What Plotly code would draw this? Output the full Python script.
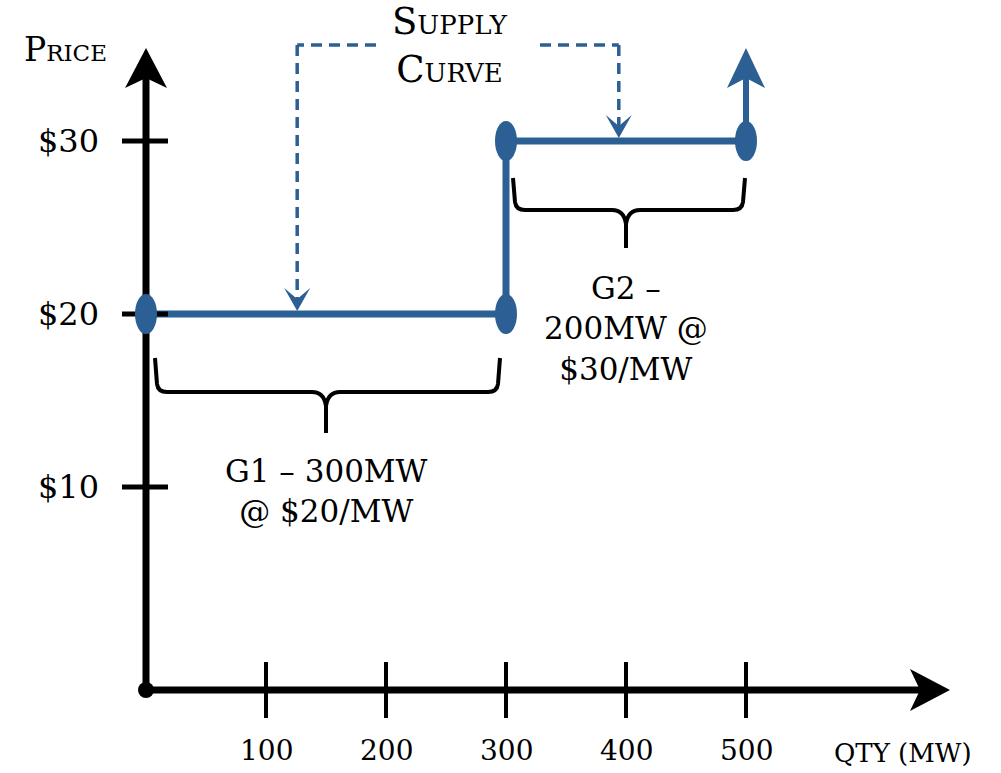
import plotly.graph_objects as go

# ---------------- data ----------------
generators = ["G1", "G2"]
gen_capacity_mw = [300, 200]
gen_price = [20, 30]
gen_labels = ["G1 – 300MW<br>@ $20/MW", "G2 –<br>200MW @<br>$30/MW"]
qty_ticks = [100, 200, 300, 400, 500]
qty_tick_labels = ["100", "200", "300", "400", "500"]
price_ticks = [10, 20, 30]
price_tick_labels = ["$10", "$20", "$30"]

# ---------------- styling / scale ----------------
BLUE = "#2c5f94"
BLACK = "#000000"
W, H = 1001, 773
X0_PX, SX = 146, 1.2      # pixel of qty 0, pixels per MW
Y20_PX, SY = 314, 17.3    # pixel of $20, pixels per $
x_range = [-X0_PX / SX, (W - X0_PX) / SX]
y_range = [20 - (H - Y20_PX) / SY, 20 + Y20_PX / SY]


def dx(px):
    return px / SX


def dy(px):
    return px / SY


AXIS_Y = 20 - (690 - Y20_PX) / SY
Y_TIP = 20 + (Y20_PX - 48) / SY
X_TIP = (950 - X0_PX) / SX
FONT = "DejaVu Serif"


def poly(q, p, pts):
    s = ""
    for i, (a, b) in enumerate(pts):
        s += ("M" if i == 0 else "L") + f"{q + dx(a)},{p + dy(b)} "
    return s + "Z"


shapes = []
annotations = []


def line(x0, y0, x1, y1, color=BLACK, width=6, dash=None):
    shapes.append(dict(type="line", xref="x", yref="y", x0=x0, y0=y0, x1=x1, y1=y1,
                       line=dict(color=color, width=width, dash=dash), layer="above"))


def path(d, color=BLACK, fill=None, width=0):
    shapes.append(dict(type="path", xref="x", yref="y", path=d,
                       fillcolor=fill if fill else "rgba(0,0,0,0)",
                       line=dict(color=color, width=width), layer="above"))


def ellipse(q, p, rx, ry, color):
    shapes.append(dict(type="circle", xref="x", yref="y", xsizemode="pixel", ysizemode="pixel",
                       xanchor=q, yanchor=p, x0=-rx, x1=rx, y0=-ry, y1=ry,
                       fillcolor=color, line=dict(color=color, width=0), layer="above"))


# ---------------- axes ----------------
line(0, AXIS_Y, 0, Y_TIP - dy(28), width=7)
path(poly(0, Y_TIP, [(0, 0), (-21, -40), (0, -30), (21, -40)]), fill=BLACK)
line(0, AXIS_Y, X_TIP - dx(28), AXIS_Y, width=7)
path(poly(X_TIP, AXIS_Y, [(0, 0), (-40, 21), (-30, 0), (-40, -21)]), fill=BLACK)
ellipse(0, AXIS_Y, 8, 8, BLACK)

for q, lab in zip(qty_ticks, qty_tick_labels):
    line(q, AXIS_Y - dy(28), q, AXIS_Y + dy(28), width=4)
    annotations.append(dict(x=q, y=AXIS_Y, yshift=-60, text=lab, showarrow=False,
                            font=dict(family=FONT, size=28, color=BLACK)))
for p, lab in zip(price_ticks, price_tick_labels):
    line(-dx(24), p, dx(22), p, width=5)
    annotations.append(dict(x=0, y=p, xshift=-78, text=lab, showarrow=False,
                            font=dict(family=FONT, size=32, color=BLACK)))

annotations.append(dict(x=0, y=Y_TIP, xshift=-81, yshift=-1, text="Price", showarrow=False,
                        font=dict(family=FONT, size=33, color=BLACK, variant="small-caps")))
annotations.append(dict(x=X_TIP + dx(24), y=AXIS_Y, xanchor="right", yshift=-63, text="QTY (MW)",
                        showarrow=False, font=dict(family=FONT, size=26, color=BLACK)))

# ---------------- supply curve ----------------
sx, sy = [], []
cum = 0
for cap, pr in zip(gen_capacity_mw, gen_price):
    sx += [cum, cum + cap]
    sy += [pr, pr]
    cum += cap

fig = go.Figure()
fig.add_trace(go.Scatter(x=sx, y=sy, mode="lines", line=dict(color=BLUE, width=7),
                         hoverinfo="skip", showlegend=False))

# upward arrow at end of curve
line(sx[-1], sy[-1], sx[-1], Y_TIP - dy(28), color=BLUE, width=6)
path(poly(sx[-1], Y_TIP, [(0, 0), (-19, -40), (0, -30), (19, -40)]), fill=BLUE)
for q, p in zip(sx, sy):
    ellipse(q, p, 11, 20, BLUE)

# ---------------- braces + labels ----------------
starts = [0] + [sum(gen_capacity_mw[:i + 1]) for i in range(len(gen_capacity_mw) - 1)]
brace_dims = [(9, 6, 44, 78, 119), (7, 1, 37, 69, 107)]
label_shift = [-18, -20]
for i, (st, cap, pr) in enumerate(zip(starts, gen_capacity_mw, gen_price)):
    lpad, rpad, top, mid_h, tip = brace_dims[i]
    L = st + dx(lpad)
    R = st + cap - dx(rpad)
    M = st + cap / 2
    yt = pr - dy(top)
    yh = pr - dy(mid_h)
    yp = pr - dy(tip)
    r = 8
    d = (f"M{L},{yt} L{L + dx(2)},{yh + dy(r)} Q{L + dx(3)},{yh} {L + dx(r + 4)},{yh} "
         f"L{M - dx(14)},{yh} Q{M - dx(2)},{yh} {M},{yh - dy(14)} L{M},{yp} "
         f"M{M},{yh - dy(14)} Q{M + dx(2)},{yh} {M + dx(14)},{yh} "
         f"L{R - dx(r + 4)},{yh} Q{R - dx(3)},{yh} {R - dx(2)},{yh + dy(r)} L{R},{yt}")
    path(d, color=BLACK, width=4)
    annotations.append(dict(x=M, y=yp, yshift=label_shift[i], text=gen_labels[i], showarrow=False,
                            yanchor="top", font=dict(family=FONT, size=31, color=BLACK)))

# ---------------- "Supply Curve" callout ----------------
LABEL_Q = (450 - X0_PX) / SX
CALL_Y = 20 + (Y20_PX - 45) / SY
left_target = 126
right_target = 394
annotations.append(dict(x=LABEL_Q, y=CALL_Y, text="Supply<br>Curve", showarrow=False,
                        font=dict(family=FONT, size=37, color=BLACK, variant="small-caps")))
dash = "11px,7px"
line(LABEL_Q - dx(74), CALL_Y, left_target, CALL_Y, color=BLUE, width=3.5, dash=dash)
line(left_target, CALL_Y, left_target, gen_price[0] + dy(14), color=BLUE, width=3.5, dash=dash)
path(poly(left_target, gen_price[0] + dy(3), [(0, 0), (-13, 23), (0, 12), (13, 23)]), fill=BLUE)
line(LABEL_Q + dx(90), CALL_Y, right_target, CALL_Y, color=BLUE, width=3.5, dash=dash)
line(right_target, CALL_Y, right_target, gen_price[1] + dy(14), color=BLUE, width=3.5, dash=dash)
path(poly(right_target, gen_price[1] + dy(3), [(0, 0), (-13, 23), (0, 12), (13, 23)]), fill=BLUE)

fig.update_layout(
    width=W, height=H, margin=dict(l=0, r=0, t=0, b=0),
    paper_bgcolor="white", plot_bgcolor="white",
    xaxis=dict(range=x_range, visible=False, fixedrange=True),
    yaxis=dict(range=y_range, visible=False, fixedrange=True),
    shapes=shapes, annotations=annotations, showlegend=False,
)
fig.write_html("out.html", config={"displayModeBar": False},
               post_script="document.body.style.margin='0px';document.body.style.overflow='hidden';")
